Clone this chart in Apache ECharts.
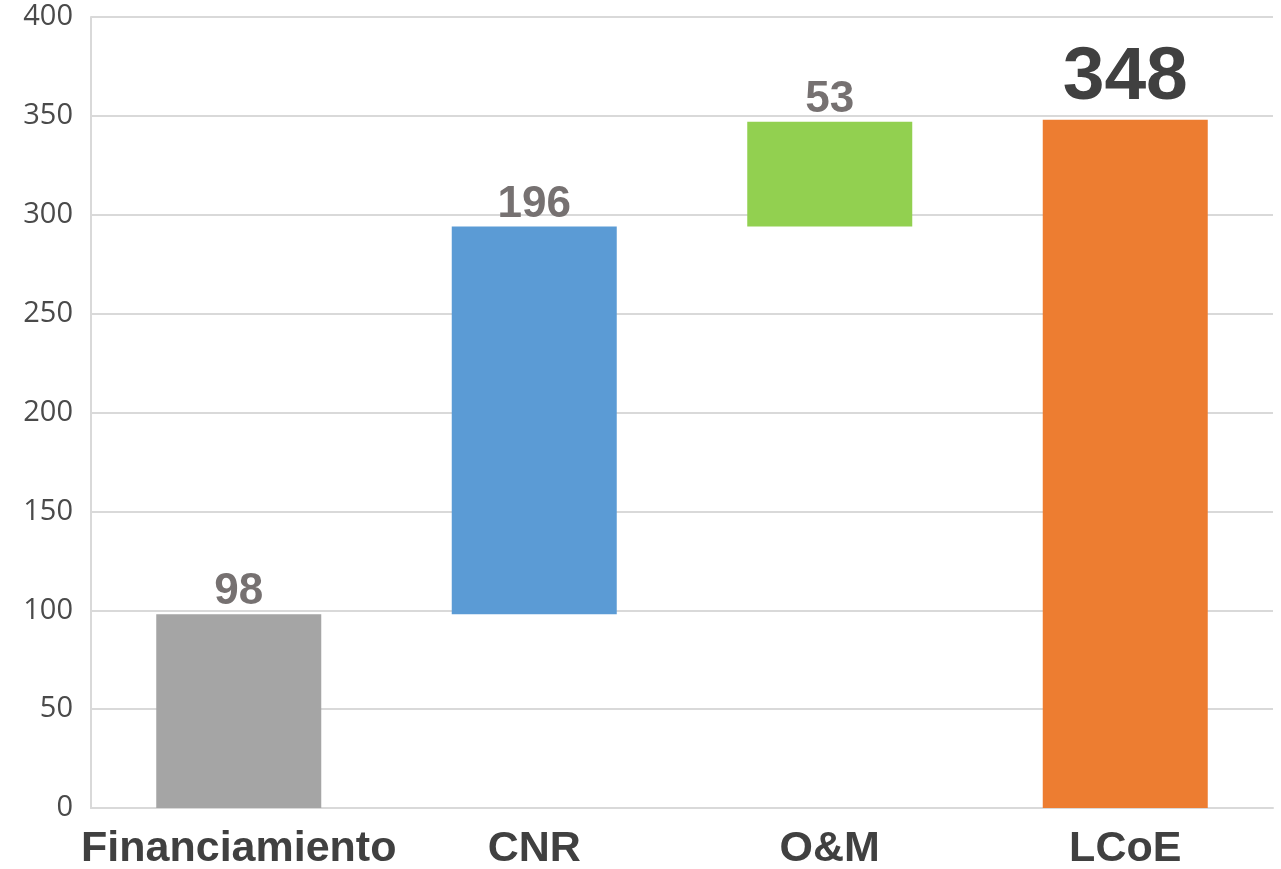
<!DOCTYPE html>
<html>
<head>
<meta charset="utf-8">
<script src="https://cdn.jsdelivr.net/npm/echarts@6/dist/echarts.min.js"></script>
<style>
  html, body { margin: 0; padding: 0; background: #fff; }
  #chart { width: 1281px; height: 869px; }
</style>
</head>
<body>
<div id="chart"></div>
<script>
// datos del grafico (cascada)
var categories = ["Financiamiento", "CNR", "O&M", "LCoE"];
var values = [98, 196, 53, 348];
var isTotal = [false, false, false, true];
var yTicks = [0, 50, 100, 150, 200, 250, 300, 350, 400];

var barColors = ["#A5A5A5", "#5B9BD5", "#92D050", "#ED7D31"];

// base invisible de cada barra
var bases = [];
var running = 0;
for (var i = 0; i < values.length; i++) {
    if (isTotal[i]) {
        bases.push(0);
    } else {
        bases.push(running);
        running += values[i];
    }
}

var visible = [];
for (var i = 0; i < values.length; i++) {
    var item = {
        value: values[i],
        itemStyle: { color: barColors[i] }
    };
    if (isTotal[i]) {
        item.label = { fontSize: 75, lineHeight: 75, color: "#404040", distance: 4 };
    }
    visible.push(item);
}

var chart = echarts.init(document.getElementById('chart'));
chart.setOption({
    animation: false,
    grid: { left: 91, right: 8, top: 17, bottom: 61, outerBoundsMode: 'none', containLabel: false },
    xAxis: {
        type: 'category',
        data: categories,
        axisLine: { lineStyle: { color: '#d9d9d9', width: 2 } },
        axisTick: { show: false },
        axisLabel: {
            fontFamily: 'Liberation Sans, Arial, sans-serif',
            fontWeight: 'bold',
            fontSize: 43,
            lineHeight: 43,
            color: '#404040',
            margin: 20,
            interval: 0
        }
    },
    yAxis: {
        type: 'value',
        min: yTicks[0],
        max: yTicks[yTicks.length - 1],
        interval: 50,
        axisLine: { show: true, lineStyle: { color: '#d9d9d9', width: 2 } },
        axisTick: { show: false },
        splitLine: { lineStyle: { color: '#d9d9d9', width: 2 } },
        axisLabel: {
            fontFamily: 'Open Sans, sans-serif',
            fontSize: 29,
            color: '#4a4a4a',
            margin: 18,
            padding: [10, 0, 0, 0]
        }
    },
    series: [
        {
            type: 'bar',
            stack: 'w',
            data: bases,
            barWidth: 165,
            itemStyle: { color: 'transparent' },
            emphasis: { disabled: true },
            silent: true
        },
        {
            type: 'bar',
            stack: 'w',
            data: visible,
            barWidth: 165,
            label: {
                show: true,
                position: 'top',
                distance: 0,
                fontFamily: 'Liberation Sans, Arial, sans-serif',
                fontWeight: 'bold',
                fontSize: 44,
                lineHeight: 44,
                color: '#767171'
            }
        }
    ]
});
</script>
</body>
</html>
